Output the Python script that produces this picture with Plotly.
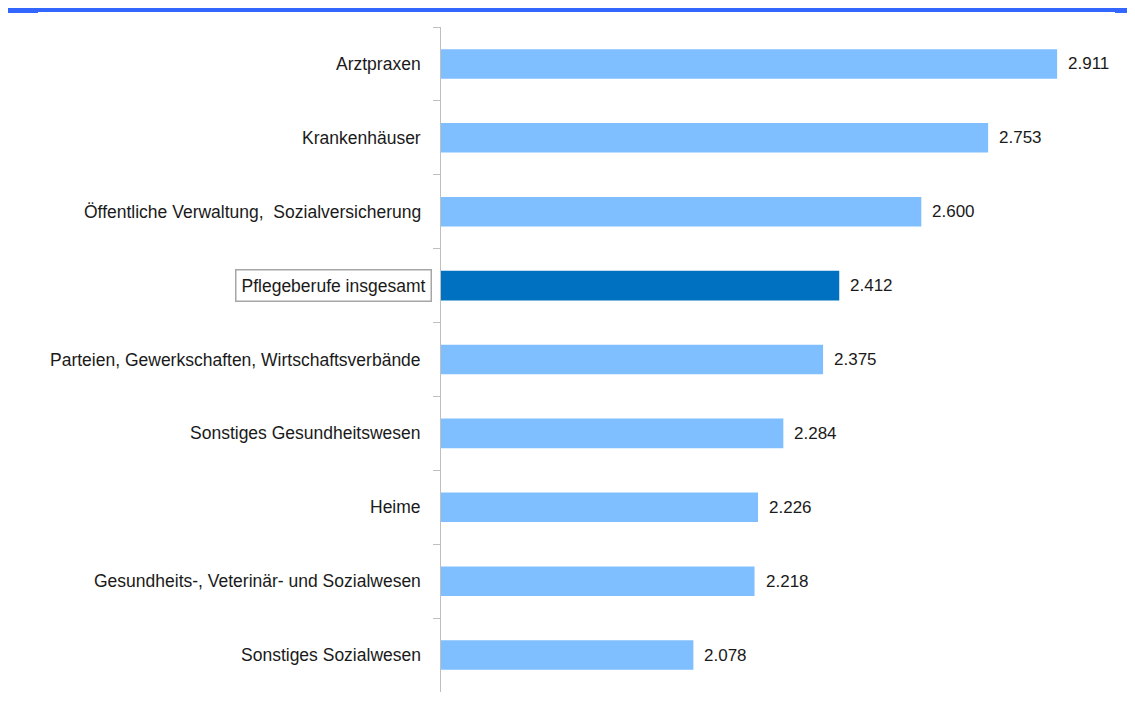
import plotly.graph_objects as go

categories = [
    "Arztpraxen",
    "Krankenhäuser",
    "Öffentliche Verwaltung,  Sozialversicherung",
    "Pflegeberufe insgesamt",
    "Parteien, Gewerkschaften, Wirtschaftsverbände",
    "Sonstiges Gesundheitswesen",
    "Heime",
    "Gesundheits-, Veterinär- und Sozialwesen",
    "Sonstiges Sozialwesen",
]
values = [2911, 2753, 2600, 2412, 2375, 2284, 2226, 2218, 2078]
highlight = "Pflegeberufe insgesamt"

LIGHT = "#80BFFF"
DARK = "#0070C0"
TEXT = "#1a1a1a"
FONT = "Liberation Sans, Arial, sans-serif"


def fmt(v):
    return f"{v:,}".replace(",", ".")


colors = [DARK if c == highlight else LIGHT for c in categories]

fig = go.Figure(
    go.Bar(
        x=values,
        y=categories,
        orientation="h",
        marker=dict(color=colors, line=dict(width=0)),
        width=0.4,
        hoverinfo="skip",
    )
)

annotations = []
for c, v in zip(categories, values):
    annotations.append(dict(
        x=v, y=c, xref="x", yref="y", text=fmt(v), showarrow=False,
        xanchor="left", xshift=9, font=dict(family=FONT, size=17, color=TEXT),
    ))
    box = c == highlight
    annotations.append(dict(
        x=0, y=c, xref="paper", yref="y", text=c, showarrow=False,
        xanchor="right", xshift=-9 if box else -20,
        font=dict(family=FONT, size=17.5, color=TEXT),
        bordercolor="#a6a6a6" if box else None,
        borderwidth=1.5 if box else 0,
        borderpad=5 if box else 0,
        bgcolor="white" if box else None,
    ))

fig.update_layout(
    width=1135, height=702,
    margin=dict(l=433, r=47, t=19, b=18),
    paper_bgcolor="white", plot_bgcolor="white",
    showlegend=False,
    bargap=0.6,
    xaxis=dict(range=[1500, 3000], visible=False, fixedrange=True),
    yaxis=dict(
        categoryorder="array", categoryarray=categories, autorange="reversed",
        showticklabels=False, showline=True, linecolor="#bfbfbf", linewidth=1,
        ticks="outside", tickson="boundaries", ticklen=7, tickcolor="#bfbfbf",
        showgrid=False, zeroline=False,
    ),
    annotations=annotations,
    shapes=[
        dict(type="line", xref="paper", yref="paper", x0=-0.6656, x1=1.0595,
             y0=1.0256, y1=1.0256, line=dict(color="#3366FF", width=4)),
        dict(type="rect", xref="paper", yref="paper", x0=-0.6656, x1=-0.6153,
             y0=1.0211, y1=1.0286, fillcolor="#3366FF", line=dict(width=0)),
        dict(type="rect", xref="paper", yref="paper", x0=1.029, x1=1.0595,
             y0=1.0211, y1=1.0286, fillcolor="#3366FF", line=dict(width=0)),
    ],
)

fig.write_html("out.html")
